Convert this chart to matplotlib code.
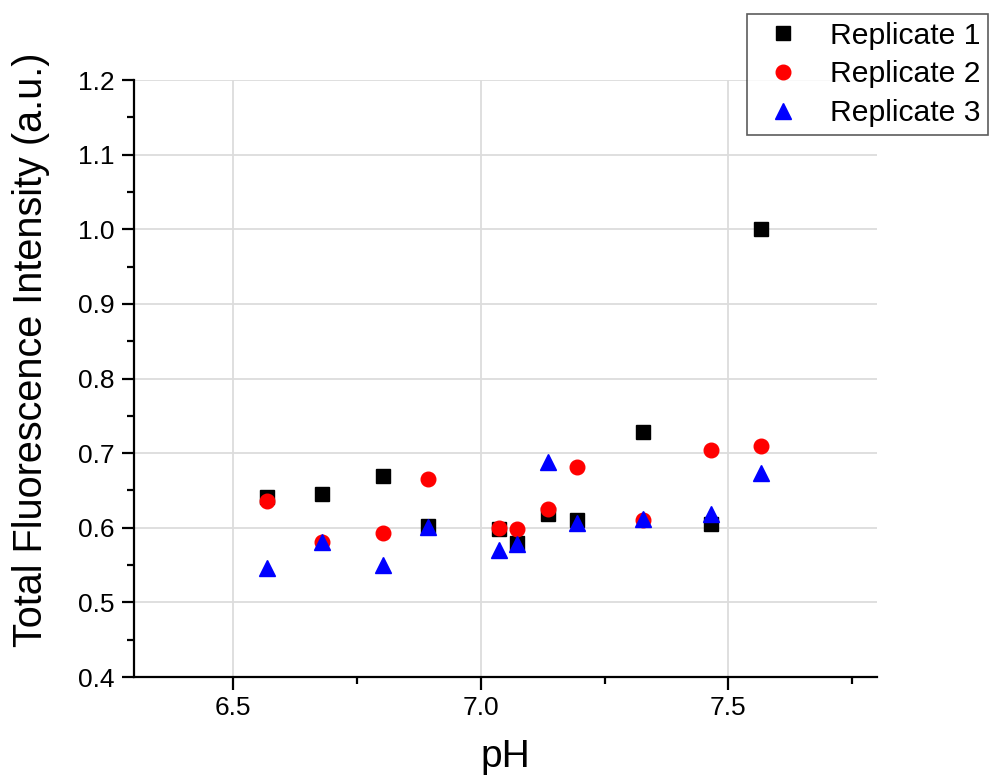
import matplotlib.pyplot as plt
from matplotlib.ticker import MultipleLocator

plt.rcParams['font.family'] = ['Liberation Sans', 'DejaVu Sans']

# pH values (shared by all replicates)
ph = [6.567, 6.679, 6.802, 6.893, 7.036, 7.074, 7.136, 7.195, 7.327, 7.465, 7.565]

# total fluorescence intensity per replicate
rep1 = [0.641, 0.645, 0.669, 0.603, 0.599, 0.580, 0.619, 0.610, 0.729, 0.605, 1.000]
rep2 = [0.636, 0.581, 0.593, 0.666, 0.600, 0.599, 0.625, 0.682, 0.610, 0.704, 0.710]
rep3 = [0.546, 0.581, 0.550, 0.601, 0.570, 0.578, 0.688, 0.607, 0.612, 0.618, 0.674]

fig = plt.figure(figsize=(9.9, 7.8), dpi=100)
ax = fig.add_axes([0.1357, 0.132, 0.75, 0.7654])

ax.plot(ph, rep1, 's', color='black', ms=10, label='Replicate 1', zorder=3)
ax.plot(ph, rep2, 'o', color='red', ms=10.5, label='Replicate 2', zorder=3)
ax.plot(ph, rep3, '^', color='blue', ms=11.5, label='Replicate 3', zorder=3)

ax.set_xlim(6.3, 7.8)
ax.set_ylim(0.4, 1.2)
ax.xaxis.set_major_locator(MultipleLocator(0.5))
ax.xaxis.set_minor_locator(MultipleLocator(0.25))
ax.yaxis.set_major_locator(MultipleLocator(0.1))
ax.yaxis.set_minor_locator(MultipleLocator(0.05))
ax.xaxis.set_major_formatter(plt.FormatStrFormatter('%.1f'))
ax.yaxis.set_major_formatter(plt.FormatStrFormatter('%.1f'))

ax.grid(True, which='major', color='#dcdcdc', linewidth=1.3)
ax.set_axisbelow(True)

for s in ['top', 'right']:
    ax.spines[s].set_visible(False)
for s in ['left', 'bottom']:
    ax.spines[s].set_linewidth(1.6)

ax.tick_params(which='major', direction='out', length=9, width=1.6, labelsize=19, pad=5)
ax.tick_params(which='minor', direction='out', length=5, width=1.6)

ax.set_xlabel('pH', fontsize=28, labelpad=13)
ax.set_ylabel('Total Fluorescence Intensity (a.u.)', fontsize=28.5)
ax.yaxis.set_label_coords(-0.1135, 0.549)

leg = ax.legend(loc='upper left', bbox_to_anchor=(0.825, 1.1106), fontsize=21.7,
                frameon=True, fancybox=False, edgecolor='#333333',
                borderpad=0.25, labelspacing=0.36, handletextpad=0.6, handlelength=1.9,
                borderaxespad=0)
leg.get_frame().set_linewidth(1.2)

fig.savefig('out.png', dpi=100)
